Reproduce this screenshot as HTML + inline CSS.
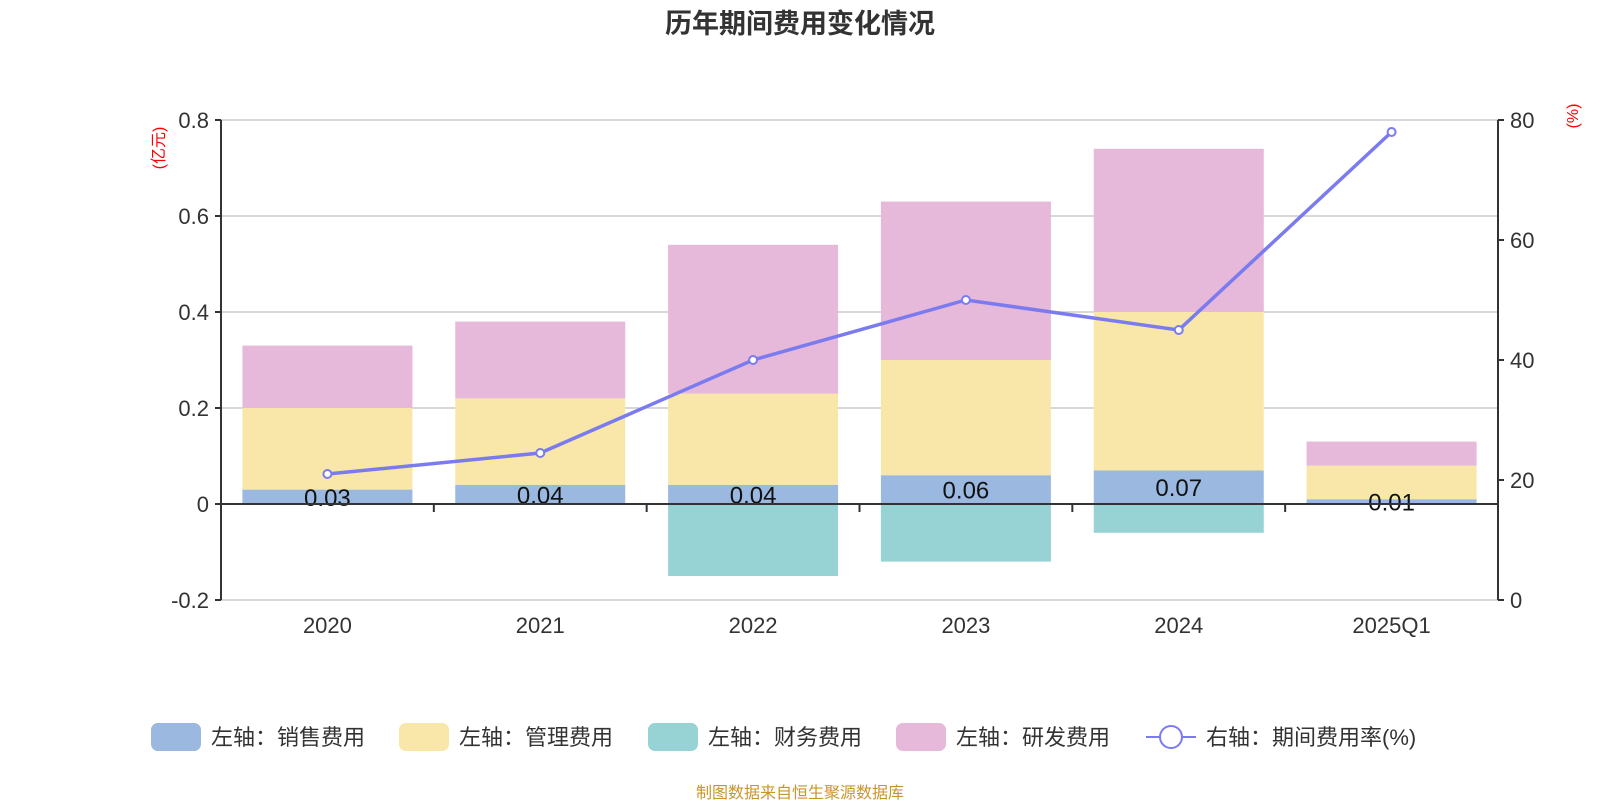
<!DOCTYPE html>
<html><head><meta charset="utf-8"><style>
body{margin:0;width:1600px;height:800px;background:#fff;overflow:hidden}
svg{font-family:"Liberation Sans","Noto Sans CJK SC",sans-serif}
</style></head><body>
<svg id="c" width="1600" height="800">
<text x="800" y="33" text-anchor="middle" font-size="27" font-weight="bold" fill="#333">历年期间费用变化情况</text>
<text x="800" y="798" text-anchor="middle" font-size="16" fill="#c8952a">制图数据来自恒生聚源数据库</text>
<g id="plot"></g>
<g id="legend"></g>
</svg>
<script>
const categories=["2020","2021","2022","2023","2024","2025Q1"];
const sales=[0.03,0.04,0.04,0.06,0.07,0.01];
const admin=[0.17,0.18,0.19,0.24,0.33,0.07];
const finance=[0,0,-0.15,-0.12,-0.06,0];
const rnd=[0.13,0.16,0.31,0.33,0.34,0.05];
const rate=[21,24.5,40,50,45,78];
const leftTicks=[-0.2,0,0.2,0.4,0.6,0.8];
const rightTicks=[0,20,40,60,80];
const NS="http://www.w3.org/2000/svg";
const X0=221,X1=1498,Ytop=120,Ybot=600;
const yL=v=>Ybot-(v+0.2)/1.0*(Ybot-Ytop);
const yR=v=>Ybot-v/80*(Ybot-Ytop);
const cw=(X1-X0)/categories.length;
const xc=i=>X0+cw*(i+0.5);
const bw=170;
const g=document.getElementById('plot');
function el(t,a,p){const e=document.createElementNS(NS,t);for(const k in a)e.setAttribute(k,a[k]);(p||g).appendChild(e);return e;}
leftTicks.forEach(t=>{
 const l=el('line',{x1:X0,x2:X1,y1:yL(t),y2:yL(t),stroke:'#ccc','stroke-width':1.5});
 
 
 el('line',{x1:X0-6,x2:X0,y1:yL(t),y2:yL(t),stroke:'#333','stroke-width':2});
 const tx=el('text',{x:X0-12,y:yL(t)+8,'text-anchor':'end','font-size':22,fill:'#333'});tx.textContent=t===0?'0':t.toFixed(1);
 
 
});
rightTicks.forEach(t=>{
 el('line',{x1:X1,x2:X1+6,y1:yR(t),y2:yR(t),stroke:'#333','stroke-width':2});
 const tx=el('text',{x:X1+12,y:yR(t)+8,'font-size':22,fill:'#333'});tx.textContent=t;
 
 
});
const colors={sales:'#9bb8e0',admin:'#f8e7a8',fin:'#97d3d5',rnd:'#e6b8d9'};
categories.forEach((c,i)=>{
 const x=xc(i)-bw/2;
 let base=0;
 [[sales,'sales'],[admin,'admin'],[rnd,'rnd']].forEach(([arr,k])=>{
  const v=arr[i];const r=el('rect',{x:x,y:yL(base+v),width:bw,height:yL(base)-yL(base+v),fill:colors[k]});
  
  
  base+=v;
 });
 if(finance[i]<0){const r=el('rect',{x:x,y:yL(0),width:bw,height:yL(finance[i])-yL(0),fill:colors.fin});
  
  }
 const lb=el('text',{x:xc(i),y:yL(sales[i]/2)+9,'text-anchor':'middle','font-size':24,fill:'#111'});lb.textContent=sales[i].toFixed(2);
 
 
 const cl=el('text',{x:xc(i),y:633,'text-anchor':'middle','font-size':22,fill:'#333'});cl.textContent=c;
 
 
 if(i>0)el('line',{x1:X0+cw*i,x2:X0+cw*i,y1:yL(0),y2:yL(0)+8,stroke:'#333','stroke-width':2});
});
el('line',{x1:X0,x2:X1,y1:yL(0),y2:yL(0),stroke:'#333','stroke-width':2});
el('line',{x1:X0,x2:X0,y1:Ytop,y2:Ybot,stroke:'#333','stroke-width':2});
el('line',{x1:X1,x2:X1,y1:Ytop,y2:Ybot,stroke:'#333','stroke-width':2});
const p=el('polyline',{points:rate.map((v,i)=>xc(i)+','+yR(v)).join(' '),fill:'none',stroke:'#7b7bf0','stroke-width':3.5});


rate.forEach((v,i)=>{const c=el('circle',{cx:xc(i),cy:yR(v),r:4,fill:'#fff',stroke:'#7b7bf0','stroke-width':2});
 
 });
const u1=el('text',{transform:'translate(164,148) rotate(-90)','text-anchor':'middle','font-size':16,fill:'red'});u1.textContent='(亿元)';


const u2=el('text',{transform:'translate(1578,116) rotate(-90)','text-anchor':'middle','font-size':16,fill:'red'});u2.textContent='(%)';


const lg=document.getElementById('legend');
const items=[['左轴：销售费用',colors.sales],['左轴：管理费用',colors.admin],['左轴：财务费用',colors.fin],['左轴：研发费用',colors.rnd]];
const lx=[151,399,648,896];
items.forEach((it,i)=>{
 const gg=el('g',{},lg);
 
 
 el('rect',{x:lx[i],y:723,width:50,height:28,rx:7,fill:it[1]},gg);
 const t=el('text',{x:lx[i]+60,y:745,'font-size':22,fill:'#333'},gg);t.textContent=it[0];
});
const gg=el('g',{},lg);


el('line',{x1:1146,x2:1196,y1:737,y2:737,stroke:'#7b7bf0','stroke-width':2},gg);
el('circle',{cx:1171,cy:737,r:11,fill:'#fff',stroke:'#7b7bf0','stroke-width':2},gg);
const t=el('text',{x:1206,y:745,'font-size':22,fill:'#333'},gg);t.textContent='右轴：期间费用率(%)';
</script>
</body></html>
